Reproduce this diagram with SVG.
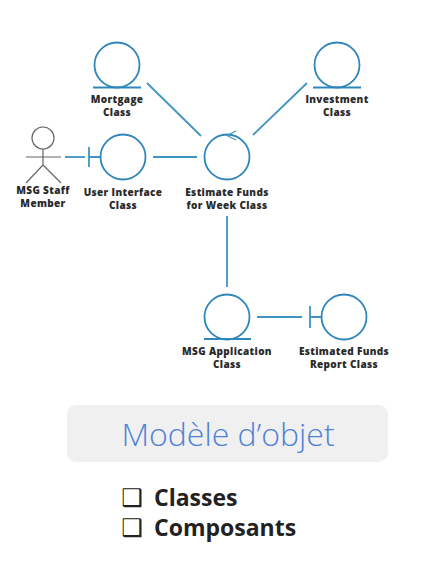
<svg xmlns="http://www.w3.org/2000/svg" width="430" height="562" viewBox="0 0 430 562">
<style>
.b{fill:none;stroke:#2f86b8;stroke-width:1.8}
.c{fill:none;stroke:#3f94c2;stroke-width:1.8}
.a{fill:none;stroke:#666;stroke-width:1.2}
.l{font-family:"Open Sans","Liberation Sans",sans-serif;font-weight:800;font-size:10px;letter-spacing:.35px;fill:#2a2a2a;text-anchor:middle}
.t{font-family:"Open Sans","Noto Sans",sans-serif;font-weight:300;font-size:32px;fill:#4f82d6;text-anchor:middle}
.i{font-family:"Open Sans","Noto Sans",sans-serif;font-weight:700;font-size:23px;fill:#222}
.m{font-family:"DejaVu Sans",sans-serif;font-weight:700;font-size:24px;fill:#222}
</style>
<rect width="430" height="562" fill="#fff"/>
<g id="connectors">
<line class="c" x1="147" y1="83" x2="201" y2="136"/>
<line class="c" x1="307" y1="83" x2="253" y2="135"/>
<line class="c" x1="65" y1="157" x2="85" y2="157"/>
<line class="c" x1="153" y1="157" x2="197" y2="157"/>
<line class="c" x1="227" y1="216" x2="227" y2="287"/>
<line class="c" x1="257" y1="317" x2="302" y2="317"/>
</g>
<g id="mortgage"><circle class="b" cx="117" cy="65" r="22.5"/><line class="b" x1="93" y1="87.5" x2="141" y2="87.5"/><text class="l" x="117" y="103">Mortgage</text><text class="l" x="117" y="116">Class</text></g>
<g id="investment"><circle class="b" cx="337" cy="65" r="22.5"/><line class="b" x1="313" y1="87.5" x2="361" y2="87.5"/><text class="l" x="337" y="103">Investment</text><text class="l" x="337" y="116">Class</text></g>
<g id="actor"><circle class="a" cx="43" cy="138" r="11"/><path class="a" d="M26 157H61M43 149V165L26 183M43 165L61 183"/><text class="l" x="43" y="194">MSG Staff</text><text class="l" x="43" y="207">Member</text></g>
<g id="ui"><circle class="b" cx="123" cy="157" r="22.5"/><path class="c" d="M89 147V167M89 157H100"/><text class="l" x="123" y="196">User Interface</text><text class="l" x="123" y="209">Class</text></g>
<g id="estimate"><circle class="b" cx="227" cy="157" r="22.5"/><path class="c" style="stroke-width:1.2" d="M236 131L227 135.500L236 140"/><text class="l" x="227" y="196">Estimate Funds</text><text class="l" x="227" y="209">for Week Class</text></g>
<g id="application"><circle class="b" cx="227" cy="317" r="22.5"/><line class="b" x1="204" y1="339" x2="251" y2="339"/><text class="l" x="227" y="355">MSG Application</text><text class="l" x="227" y="368">Class</text></g>
<g id="report"><circle class="b" cx="344" cy="317" r="22.5"/><path class="c" d="M310 306V328M310 317H321"/><text class="l" x="344" y="355">Estimated Funds</text><text class="l" x="344" y="368">Report Class</text></g>
<g id="title"><rect x="67" y="405" width="321" height="57" rx="9" fill="#f0f0f0"/><text class="t" x="228" y="446">Modèle d’objet</text></g>
<g id="list"><text class="m" x="121.500" y="505.500">❑</text><text class="i" x="154" y="506">Classes</text><text class="m" x="121.500" y="535.500">❑</text><text class="i" x="154" y="536">Composants</text></g>
</svg>
